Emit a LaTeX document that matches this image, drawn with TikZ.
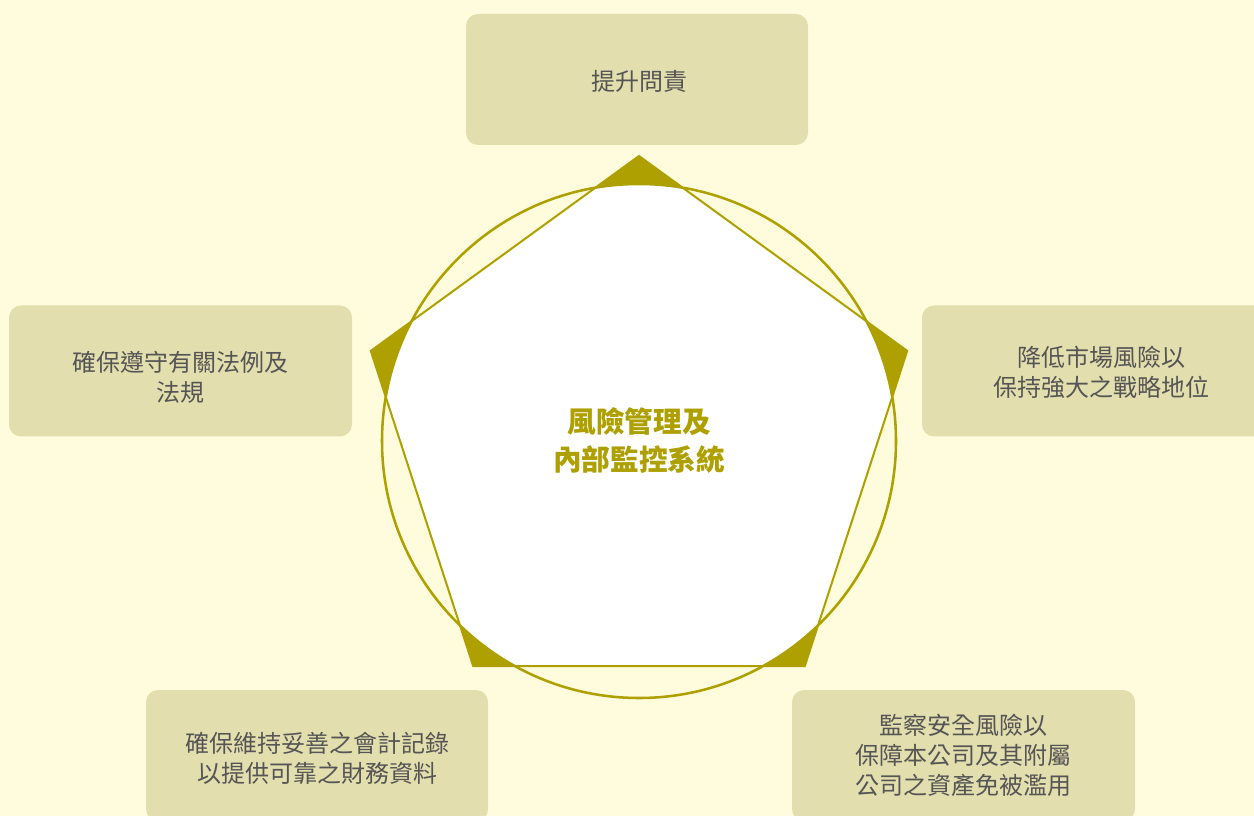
\documentclass[tikz,border=0pt]{standalone}
\usepackage{fontspec}
\setmainfont{Noto Sans CJK TC}
\definecolor{bg}{HTML}{FFFCDD}
\definecolor{boxc}{HTML}{E3DEAD}
\definecolor{olivec}{HTML}{ADA000}
\definecolor{txtc}{HTML}{555555}
\begin{document}
\begin{tikzpicture}[x=0.75pt,y=-0.75pt,
  itembox/.style={fill=boxc, rounded corners=9pt, minimum height=98.25pt, inner sep=0pt},
  itemtext/.style={text=txtc, font=\fontsize{18}{22.5}\selectfont, align=center, inner sep=0pt},
  hubtext/.style={text=olivec, font=\fontsize{21.5}{28.5}\selectfont\bfseries, align=center, inner sep=0pt},
  ring/.style={draw=olivec, line width=1.9pt},
  penta/.style={draw=olivec, line width=1.5pt, line join=miter}]
\useasboundingbox (0,0) rectangle (1254,816);
\clip (0,0) rectangle (1254,816);
\fill[bg] (0,0) rectangle (1254,816);

% pentagon vertices
\coordinate (p1) at (639,156);
\coordinate (p2) at (907.2,350.9);
\coordinate (p3) at (804.8,666.1);
\coordinate (p4) at (473.2,666.1);
\coordinate (p5) at (370.8,350.9);
\coordinate (cc) at (639,441);

% pentagon fill outside circle
\fill[olivec] (p1) -- (p2) -- (p3) -- (p4) -- (p5) -- cycle;
\begin{scope}
  \clip (p1) -- (p2) -- (p3) -- (p4) -- (p5) -- cycle;
  \fill[white] (cc) circle[radius=257];
\end{scope}
\draw[ring] (cc) circle[radius=257];
\draw[penta] (p1) -- (p2) -- (p3) -- (p4) -- (p5) -- cycle;

\node[hubtext] (hub) at (639,440) {風險管理及\\內部監控系統};

\node[itembox, minimum width=256.5pt] (top) at (637,79.5) {};
\node[itemtext] (toptext) at (639,81) {提升問責};
\node[itembox, minimum width=257.25pt] (left) at (180.5,371) {};
\node[itemtext] (lefttext) at (180.5,377) {確保遵守有關法例及\\法規};
\node[itembox, minimum width=268.5pt] (right) at (1101,371) {};
\node[itemtext] (righttext) at (1101,372) {降低市場風險以\\保持強大之戰略地位};
\node[itembox, minimum width=256.5pt] (bl) at (317,755.5) {};
\node[itemtext] (bltext) at (317,758.5) {確保維持妥善之會計記錄\\以提供可靠之財務資料};
\node[itembox, minimum width=257.25pt] (br) at (963.5,755.5) {};
\node[itemtext] (brtext) at (963.5,755) {監察安全風險以\\保障本公司及其附屬\\公司之資產免被濫用};
\end{tikzpicture}
\end{document}
